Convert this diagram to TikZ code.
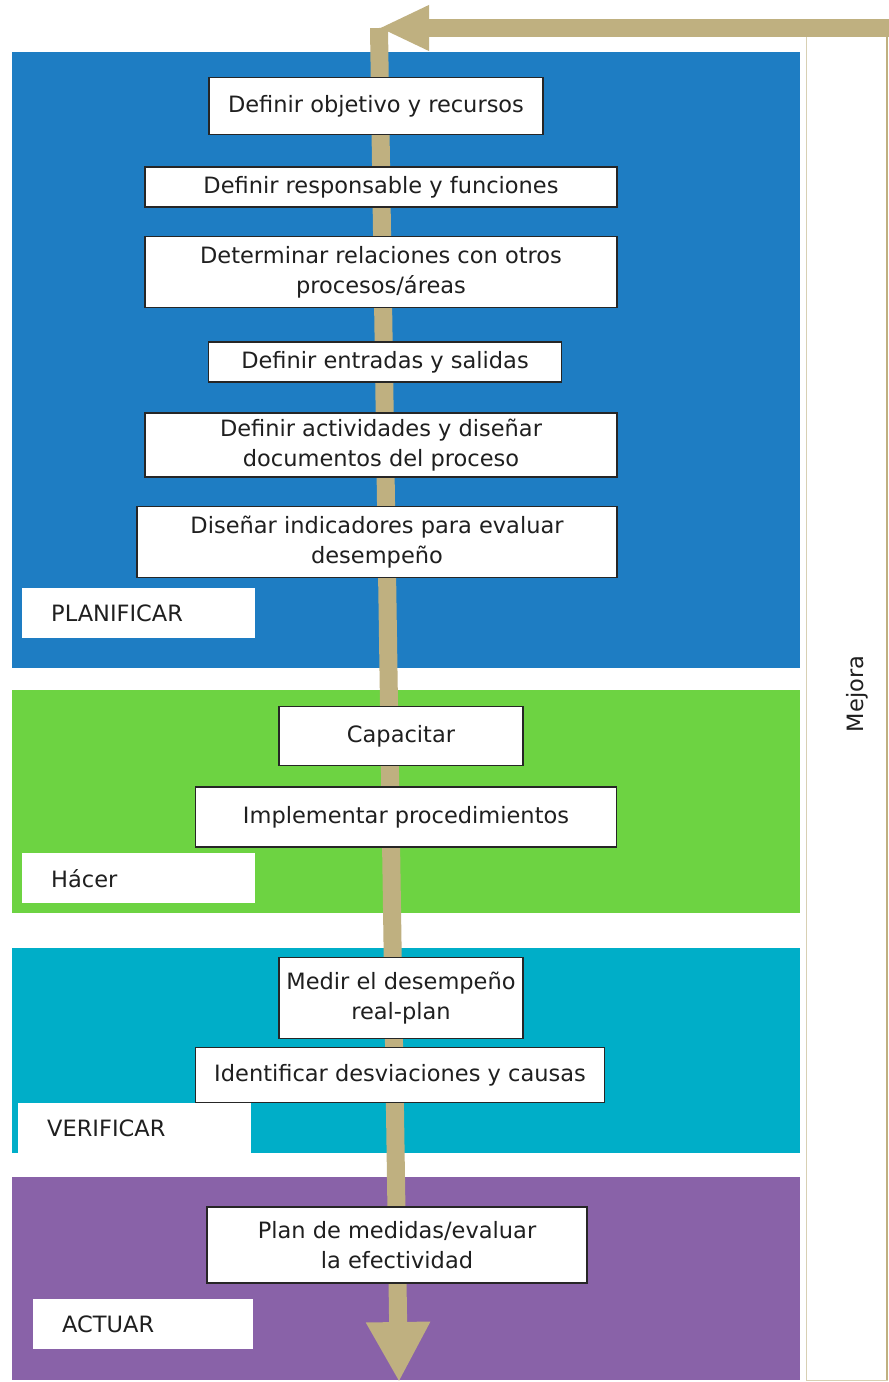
\documentclass[tikz,border=0pt]{standalone}
\usepackage{fontspec}
\setmainfont{DejaVu Sans}
\usetikzlibrary{arrows.meta}
\definecolor{planblue}{RGB}{30,125,195}
\definecolor{dogreen}{RGB}{109,211,66}
\definecolor{checkteal}{RGB}{0,174,200}
\definecolor{actpurple}{RGB}{137,98,168}
\definecolor{khaki}{RGB}{191,176,128}

\begin{document}
\begin{tikzpicture}
[x=1pt,y=-1pt,
%%%%%%%%%%%%%%%%%%%%%%%%%%%%%%
every node/.style={font=\fontsize{22.5}{30}\selectfont, text=black!88},
stepbox/.style={rectangle,draw=black!85,line width=1.5pt,fill=white,align=center,inner sep=0pt},
labelbox/.style={rectangle,fill=white,anchor=north west,minimum height=50pt,text width=175pt,inner xsep=29pt,align=left},
band/.style={line width=18pt,draw=khaki},
]%%%%%%%%%%%%%%%%%%%%%%%%%%%%%%
\useasboundingbox (0,0) rectangle (889,1382);
\fill[white] (0,0) rectangle (889,1382);
% panels
\fill[planblue] (12,52) rectangle (800,668);
\fill[dogreen] (12,690) rectangle (800,913);
\fill[checkteal] (12,948) rectangle (800,1153);
\fill[actpurple] (12,1177) rectangle (800,1380);
% mejora
\draw[khaki!60,fill=white,line width=1pt] (806,36) rectangle (887,1380);
\draw[khaki,line width=2pt] (887,36) -- (887,1380);
\node[rotate=90] (mejora) at (857,694) {Mejora};
% flow
\coordinate (entry) at (889,28);
\coordinate (turn) at (379,28);
\coordinate (exit) at (399,1382);
\draw[band,-{Triangle[length=60pt,width=60pt]}] (turn) -- (exit);
\draw[band,-{Triangle[length=50pt,width=42pt]}] (entry) -- (turn);
% steps
\node[stepbox,minimum width=334pt,minimum height=57pt] (obj) at (376,106) {Definir objetivo y recursos};
\node[stepbox,minimum width=472pt,minimum height=40pt] (resp) at (381,187) {Definir responsable y funciones};
\node[stepbox,minimum width=472pt,minimum height=71pt] (rel) at (381,272) {Determinar relaciones con otros\\procesos/áreas};
\node[stepbox,minimum width=353pt,minimum height=40pt] (ent) at (385,362) {Definir entradas y salidas};
\node[stepbox,minimum width=472pt,minimum height=64pt] (act) at (381,445) {Definir actividades y diseñar\\documentos del proceso};
\node[stepbox,minimum width=480pt,minimum height=71pt] (ind) at (377,542) {Diseñar indicadores para evaluar\\desempeño};
\node[stepbox,minimum width=244pt,minimum height=59pt] (cap) at (401,736) {Capacitar};
\node[stepbox,minimum width=421pt,minimum height=60pt] (impl) at (406,817) {Implementar procedimientos};
\node[stepbox,minimum width=244pt,minimum height=81pt] (med) at (401,998) {Medir el desempeño\\real-plan};
\node[stepbox,minimum width=409pt,minimum height=55pt] (desv) at (400,1075) {Identificar desviaciones y causas};
\node[stepbox,minimum width=380pt,minimum height=76pt] (plan) at (397,1245) {Plan de medidas/evaluar\\la efectividad};
% phases
\node[labelbox] (planificar) at (22,588) {PLANIFICAR};
\node[labelbox] (hacer) at (22,853) {Hácer};
\node[labelbox] (verificar) at (18,1103) {VERIFICAR};
\node[labelbox,text width=162pt] (actuar) at (33,1299) {ACTUAR};
\end{tikzpicture}
\end{document}
